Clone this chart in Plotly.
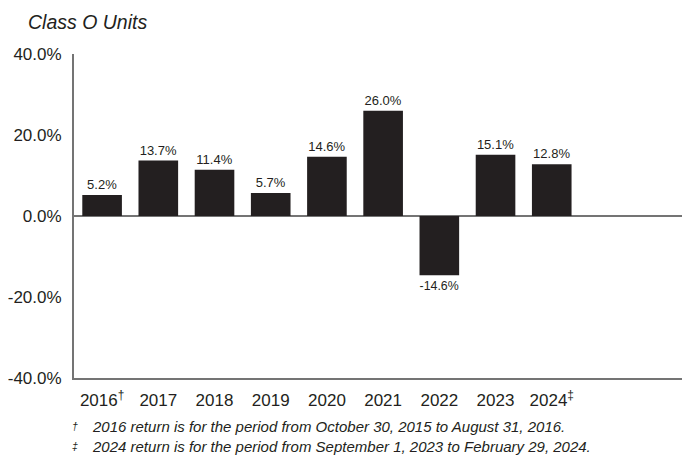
import plotly.graph_objects as go

categories = ["2016<sup>†</sup>", "2017", "2018", "2019", "2020", "2021", "2022", "2023", "2024<sup>‡</sup>"]
returns = [5.2, 13.7, 11.4, 5.7, 14.6, 26.0, -14.6, 15.1, 12.8]
bar_labels = ["5.2%", "13.7%", "11.4%", "5.7%", "14.6%", "26.0%", "-14.6%", "15.1%", "12.8%"]
y_tickvals = [-40, -20, 0, 20, 40]
y_ticktext = ["-40.0%", "-20.0%", "0.0%", "20.0%", "40.0%"]
title_text = "Class O Units"
footnotes = [
    ("†", "2016 return is for the period from October 30, 2015 to August 31, 2016."),
    ("‡", "2024 return is for the period from September 1, 2023 to February 29, 2024."),
]

DARK = "#231f20"
GRAY = "#747474"
FONT = "Liberation Sans, Arial, sans-serif"

fig = go.Figure()
fig.add_trace(go.Bar(
    x=list(range(len(categories))),
    y=returns,
    text=bar_labels,
    textposition="outside",
    textfont=dict(size=13, color=DARK, family=FONT),
    marker=dict(color=DARK, line=dict(width=0)),
    width=0.705,
    cliponaxis=False,
    hoverinfo="skip",
))

# The page body has an 8px default margin, so the figure is sized and
# its margins reduced to keep the plot area where the reference has it.
fig.update_layout(
    width=682, height=454,
    margin=dict(l=61, r=0, t=46, b=84),
    paper_bgcolor="white", plot_bgcolor="white",
    showlegend=False,
    font=dict(family=FONT, color=DARK),
    xaxis=dict(
        tickmode="array",
        tickvals=list(range(len(categories))),
        ticktext=categories,
        range=[-0.5, 10.46],
        showgrid=False, zeroline=False,
        showline=True, linecolor=GRAY, linewidth=2,
        ticks="", ticklabelstandoff=6,
        tickfont=dict(size=17, color=DARK, family=FONT),
    ),
    yaxis=dict(
        tickmode="array",
        tickvals=y_tickvals,
        ticktext=y_ticktext,
        range=[-40, 40],
        showgrid=False,
        zeroline=True, zerolinecolor=GRAY, zerolinewidth=2,
        showline=True, linecolor=GRAY, linewidth=2,
        ticks="", ticklabelstandoff=7,
        tickfont=dict(size=17, color=DARK, family=FONT),
    ),
)

fig.add_annotation(
    text="<i>" + title_text + "</i>",
    xref="paper", yref="paper", x=-0.0775, y=1.0, yshift=32,
    xanchor="left", yanchor="middle", showarrow=False,
    font=dict(size=19.5, color=DARK, family=FONT),
)

for i, (sym, txt) in enumerate(footnotes):
    fig.add_annotation(
        text="<i><sup>" + sym + "</sup></i>",
        xref="paper", yref="paper", x=-0.006, y=0, yshift=-48 - 20 * i,
        xanchor="left", yanchor="middle", showarrow=False,
        font=dict(size=15, color=DARK, family=FONT),
    )
    fig.add_annotation(
        text="<i>" + txt + "</i>",
        xref="paper", yref="paper", x=0.026, y=0, yshift=-48 - 20 * i,
        xanchor="left", yanchor="middle", showarrow=False,
        font=dict(size=15, color=DARK, family=FONT),
    )

fig.write_html("out.html")
